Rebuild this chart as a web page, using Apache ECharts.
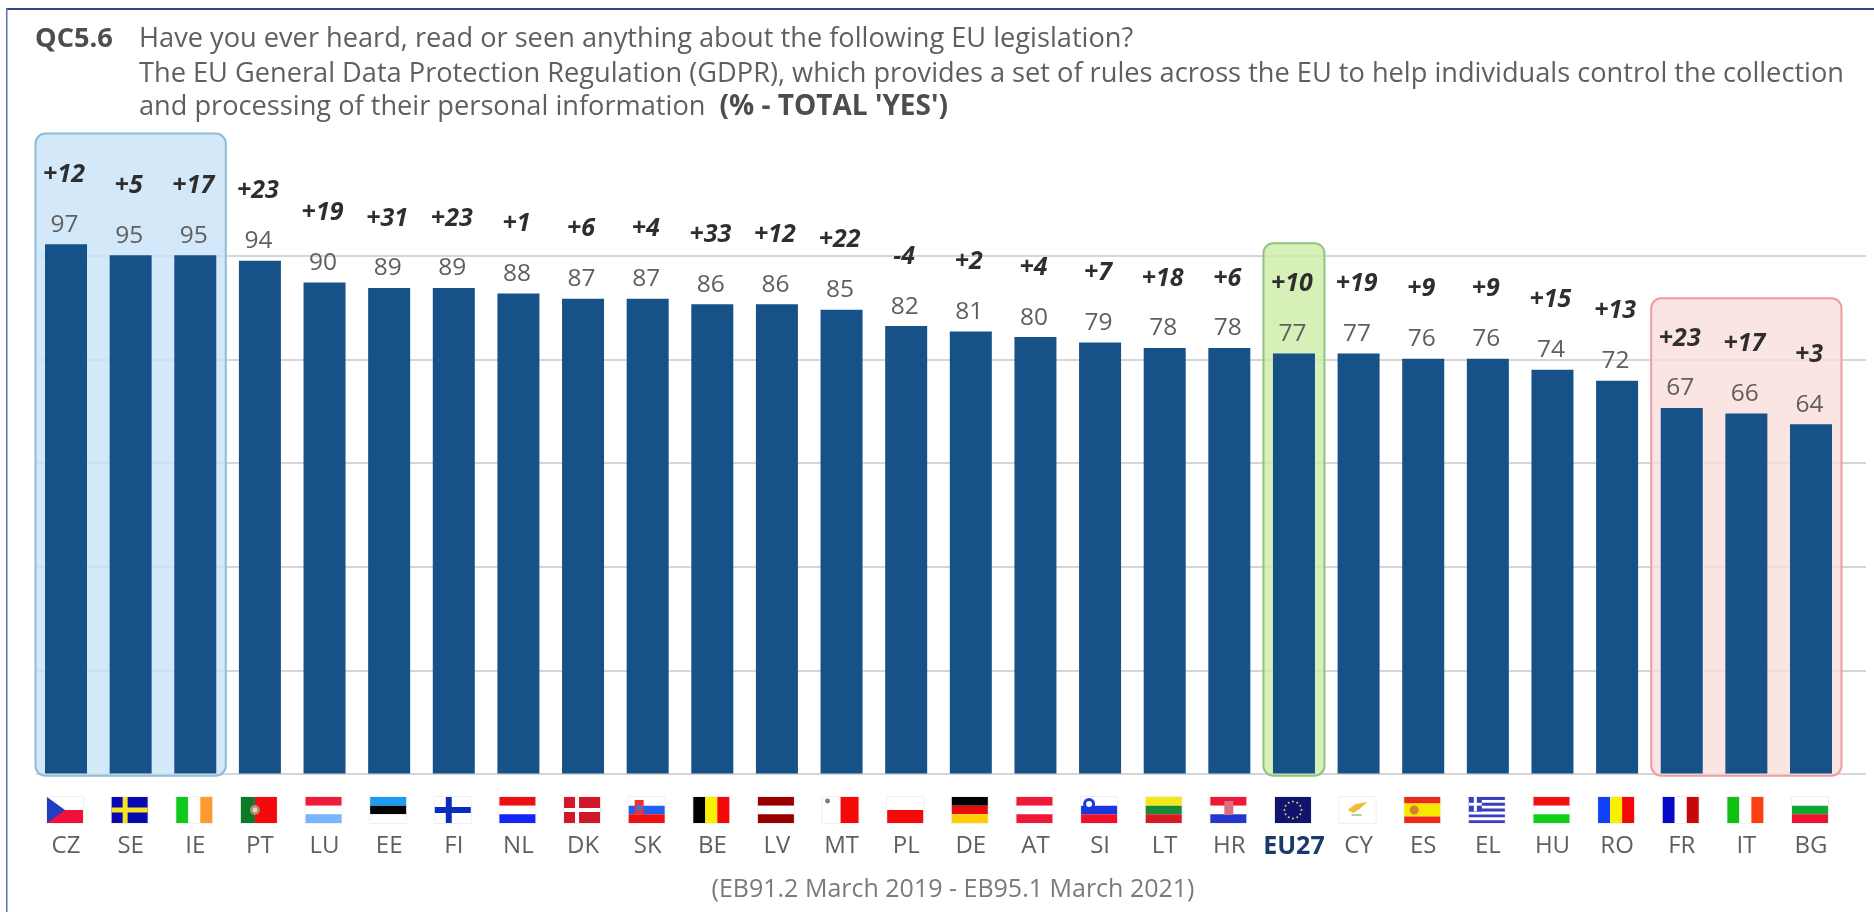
<!DOCTYPE html>
<html>
<head>
<meta charset="utf-8">
<style>html,body{margin:0;padding:0;background:#fff}#chart{width:1874px;height:912px}</style>
<script src="https://cdn.jsdelivr.net/npm/echarts@6/dist/echarts.min.js"></script>
</head>
<body>
<div id="chart"></div>
<script>
// Awareness of the GDPR by member state
const countries = ['CZ','SE','IE','PT','LU','EE','FI','NL','DK','SK','BE','LV','MT','PL','DE','AT','SI','LT','HR','EU27','CY','ES','EL','HU','RO','FR','IT','BG'];
const totalYes = [97,95,95,94,90,89,89,88,87,87,86,86,85,82,81,80,79,78,78,77,77,76,76,74,72,67,66,64];
const changes = ['+12','+5','+17','+23','+19','+31','+23','+1','+6','+4','+33','+12','+22','-4','+2','+4','+7','+18','+6','+10','+19','+9','+9','+15','+13','+23','+17','+3'];

// Highlight groups: first category, last category, upper value of the box
const highlightFirst = [0, 19, 25];
const highlightLast = [2, 19, 27];
const highlightTop = [117.3, 97.2, 87.1];

const BAR = '#165188', TEXT = '#5f5f5f', FONT = '"Open Sans", sans-serif';
const boxStyles = [
  {fill: 'rgba(200,228,247,0.8)', stroke: '#8fbcd6'},
  {fill: 'rgba(205,236,165,0.8)', stroke: '#8fc480'},
  {fill: 'rgba(250,222,220,0.8)', stroke: '#ec9ca2'}
];

// Flags are drawn on a 36 x 26 box
const W = 36, H = 26;
const r = (x, y, w, h, c) => ({type: 'rect', shape: {x, y, width: w, height: h}, style: {fill: c}});
const hs = (...c) => c.map((k, i) => r(0, i * H / c.length, W, H / c.length, k));
const vs = (...c) => c.map((k, i) => r(i * W / c.length, 0, W / c.length, H, k));
const nordic = (bg, fg, t) => [r(0, 0, W, H, bg), r(11, 0, t, H, fg), r(0, (H - t) / 2, W, t, fg)];
const dot = (x, y, rad, c) => ({type: 'circle', shape: {cx: x, cy: y, r: rad}, style: {fill: c}});
const ringStars = Array.from({length: 12}, (_, i) => dot(18 + 8.5 * Math.cos(i * Math.PI / 6), 13 + 8.5 * Math.sin(i * Math.PI / 6), 1, '#d8d060'));
const greekStripes = Array.from({length: 5}, (_, i) => r(0, i * 5.8, W, 2.9, '#3a3fc0'));
const flags = {
  CZ: [r(0, 0, W, 13, '#ffffff'), r(0, 13, W, 13, '#f2103a'), {type: 'polygon', shape: {points: [[0, 0], [18, 13], [0, 26]]}, style: {fill: '#1f3fc0'}}],
  SE: nordic('#0808b0', '#f5e51e', 5),
  IE: vs('#10c81a', '#ffffff', '#ff9a30'),
  PT: [r(0, 0, 14, H, '#0a7a2a'), r(14, 0, 22, H, '#f40a0a'), dot(14, 13, 5, '#b09070'), dot(14, 13, 2.4, '#d8d8d8')],
  LU: hs('#ee1c3a', '#ffffff', '#78b4ff'),
  EE: hs('#1c9cf0', '#000000', '#ffffff'),
  FI: nordic('#ffffff', '#0c2cc0', 6),
  NL: hs('#ee1010', '#ffffff', '#1424f8'),
  DK: nordic('#d01828', '#ffffff', 4),
  SK: [...hs('#ffffff', '#2060f0', '#ee1010'), r(6, 3, 9, 14, '#ee3030'), dot(10.5, 11, 3, '#4070e0')],
  BE: vs('#000000', '#f8f000', '#f40808'),
  LV: hs('#980000', '#ffffff', '#980000'),
  MT: [r(18, 0, 18, H, '#f40808'), dot(5, 4, 2.4, '#777777')],
  PL: hs('#ffffff', '#f40a0a'),
  DE: hs('#000000', '#e80c0c', '#ffcc00'),
  AT: hs('#f01838', '#ffffff', '#f01838'),
  SI: [...hs('#ffffff', '#1838e0', '#f01028'), dot(8, 7, 6, '#1838e0'), dot(8, 7, 3, '#ffffff')],
  LT: hs('#f4e818', '#178a3a', '#d81a22'),
  HR: [...hs('#f01838', '#ffffff', '#2438d0'), r(14, 4, 9, 14, '#d87080')],
  EU27: [r(0, 0, W, H, '#10146e'), ...ringStars],
  CY: [{type: 'polygon', shape: {points: [[8, 13], [16, 7], [28, 5], [20, 12], [14, 16]]}, style: {fill: '#f4b840'}}, r(12, 17, 10, 2, '#a8d8a0')],
  ES: [r(0, 0, W, 6.5, '#ee2818'), r(0, 6.5, W, 13, '#f8e800'), r(0, 19.5, W, 6.5, '#ee2818'), dot(10, 13, 4.5, '#d88030')],
  EL: [...greekStripes, r(0, 0, 13, 14.5, '#3a3fc0'), r(5, 0, 3, 14.5, '#ffffff'), r(0, 5.8, 13, 2.9, '#ffffff')],
  HU: hs('#f01010', '#ffffff', '#10d018'),
  RO: vs('#1040f8', '#f8f000', '#f40808'),
  FR: vs('#0808c8', '#ffffff', '#c80808'),
  IT: vs('#10c010', '#ffffff', '#fc4010'),
  BG: hs('#ffffff', '#10a830', '#f01030')
};
// Faint outline shared by every flag, so white fields stay readable
const flagEdge = {type: 'rect', shape: {x: -0.5, y: -0.5, width: W + 1, height: H + 1}, style: {fill: '#ffffff', stroke: '#f0f0f0', lineWidth: 1}};

const chart = echarts.init(document.getElementById('chart'));

const titleLine = (text, left, top, style) => ({
  text, left, top, padding: 0,
  textStyle: Object.assign({fontFamily: FONT, fontSize: 27.2, fontWeight: 'normal', color: TEXT, lineHeight: 32,
    rich: {b: {fontFamily: FONT, fontSize: 28, fontWeight: 'bold', color: '#4d4d4d', lineHeight: 32}}}, style || {})
});

chart.setOption({
  animation: false,
  backgroundColor: '#ffffff',
  title: [
    titleLine('QC5.6', 35, 23, {fontWeight: 'bold', color: '#4d4d4d', fontSize: 27.2}),
    titleLine('Have you ever heard, read or seen anything about the following EU legislation?', 139, 23),
    titleLine('The EU General Data Protection Regulation (GDPR), which provides a set of rules across the EU to help individuals control the collection', 139, 58),
    titleLine("and processing of their personal information  {b|(% - TOTAL 'YES')}", 139, 91),
    {text: '(EB91.2 March 2019 - EB95.1 March 2021)', left: 953, top: 875, textAlign: 'center', padding: 0,
     textStyle: {fontFamily: FONT, fontSize: 25, fontWeight: 'normal', color: '#7a7a7a', lineHeight: 30}}
  ],
  graphic: [
    {type: 'rect', shape: {x: 6, y: 8, width: 1868, height: 2}, style: {fill: '#2b4a8e'}, silent: true},
    {type: 'rect', shape: {x: 6, y: 8, width: 1.5, height: 904}, style: {fill: '#5b70b4'}, silent: true}
  ],
  grid: [
    {left: 33.7, right: 30.7, top: 118.8, height: 654.7},
    {left: 36, right: 8, top: 256, height: 518}
  ],
  xAxis: [
    {type: 'category', gridIndex: 0, data: countries, boundaryGap: true,
     axisLine: {show: false}, axisTick: {show: false}, splitLine: {show: false},
     axisLabel: {margin: 60, interval: 0, fontFamily: FONT, fontSize: 24, color: TEXT, lineHeight: 26,
       formatter: v => v === 'EU27' ? '{eu|' + v + '}' : v,
       rich: {eu: {fontFamily: FONT, fontSize: 25, fontWeight: 'bold', color: '#1a3a6c', lineHeight: 26}}}},
    {type: 'value', gridIndex: 1, min: 0, max: 1, show: false, splitLine: {show: false}}
  ],
  yAxis: [
    {type: 'value', gridIndex: 0, min: 0, max: 120, interval: 20, show: false, splitLine: {show: false}},
    {type: 'value', gridIndex: 1, min: 0, max: 95, interval: 19,
     axisLine: {show: false}, axisTick: {show: false}, axisLabel: {show: false},
     splitLine: {show: true, lineStyle: {color: '#d6d6d6', width: 2}}}
  ],
  series: [
    {
      // Rounded boxes behind the leading, EU27 and trailing groups
      type: 'custom', xAxisIndex: 0, yAxisIndex: 0, z: 1, silent: true, clip: false,
      data: highlightFirst.map((f, i) => [f, highlightLast[i], highlightTop[i], i]),
      encode: {x: [0, 1], y: 2},
      renderItem(params, api) {
        const half = api.size([1, 0])[0] / 2 - 1.8;
        const tl = api.coord([api.value(0), api.value(2)]);
        const br = api.coord([api.value(1), -0.4]);
        const st = boxStyles[api.value(3)];
        return {type: 'rect',
          shape: {x: tl[0] - half, y: tl[1], width: br[0] - tl[0] + 2 * half, height: br[1] - tl[1], r: 10},
          style: {fill: st.fill, stroke: st.stroke, lineWidth: 2}};
      }
    },
    {
      type: 'bar', xAxisIndex: 0, yAxisIndex: 0, z: 3, barWidth: 42, barGap: '-100%',
      data: totalYes, itemStyle: {color: BAR},
      label: {show: true, position: 'top', distance: 7, fontFamily: FONT, fontSize: 24.5, color: TEXT, offset: [-1.5, 0]}
    },
    {
      // Invisible twin of the bars that carries the change since 2019
      type: 'bar', xAxisIndex: 0, yAxisIndex: 0, z: 4, barWidth: 42, barGap: '-100%', silent: true,
      data: totalYes, itemStyle: {color: 'transparent'},
      label: {show: true, position: 'top', distance: 57, offset: [-2, 0], fontFamily: FONT, fontSize: 25,
        fontWeight: 'bold', fontStyle: 'italic', color: '#2e2e2e',
        formatter: p => changes[p.dataIndex]}
    },
    {
      // Flag row under the axis
      type: 'custom', xAxisIndex: 0, yAxisIndex: 0, z: 5, silent: true, clip: false,
      data: countries.map((c, i) => [i, 0]),
      encode: {x: 0, y: 1},
      renderItem(params, api) {
        const p = api.coord([api.value(0), 0]);
        return {type: 'group', x: p[0] - 1 - W / 2, y: p[1] + 23.5,
                children: [flagEdge, ...flags[countries[params.dataIndex]]]};
      }
    }
  ]
});
</script>
</body>
</html>
